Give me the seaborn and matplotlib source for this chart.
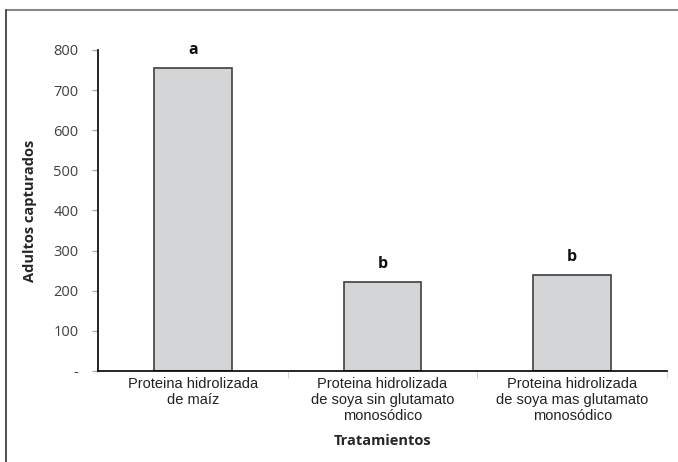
import pandas as pd
import matplotlib.pyplot as plt
import seaborn as sns
from matplotlib.lines import Line2D

# Data
tratamientos = ["Proteina hidrolizada\nde maíz",
                "Proteina hidrolizada\nde soya sin glutamato\nmonosódico",
                "Proteina hidrolizada\nde soya mas glutamato\nmonosódico"]
adultos = [755, 222, 240]
letras = ["a", "b", "b"]
yticks = [0, 100, 200, 300, 400, 500, 600, 700, 800]
ytick_labels = ["-", "100", "200", "300", "400", "500", "600", "700", "800"]

df = pd.DataFrame({"Tratamientos": tratamientos, "Adultos capturados": adultos})

sns.set_style("white")
plt.rcParams['font.family'] = ['Open Sans', 'DejaVu Sans']

fig = plt.figure(figsize=(6.78, 4.62), dpi=100)
ax = fig.add_axes([0.1445, 0.197, 0.8395, 0.695])

sns.barplot(data=df, x="Tratamientos", y="Adultos capturados", ax=ax,
            color="#d4d5d7", edgecolor="#404040", linewidth=1.2, width=0.41,
            saturation=1)

ax.set_ylim(0, 800)
ax.set_xlim(-0.5, 2.5)
ax.set_yticks(yticks)
ax.set_yticklabels(ytick_labels, color="#404040", fontsize=10.5)
ax.set_xticks(range(len(tratamientos)))
ax.set_xticklabels(tratamientos, fontsize=10.5, family="Liberation Sans",
                   color="#222222", linespacing=1.2)
ax.tick_params(axis="x", length=0, pad=4)
ax.tick_params(axis="y", length=4, color="#aaaaaa", width=1, pad=10, left=True)
ax.set_xticks([0.5, 1.5, 2.5], minor=True)
ax.tick_params(axis="x", which="minor", length=5, color="#cccccc", bottom=True)

for s in ["top", "right"]:
    ax.spines[s].set_visible(False)
ax.spines["left"].set_color("black")
ax.spines["bottom"].set_color("black")
ax.spines["left"].set_linewidth(1.2)
ax.spines["bottom"].set_linewidth(1.2)

for i, (v, l) in enumerate(zip(adultos, letras)):
    ax.annotate(l, (i, v), xytext=(0, 7), textcoords="offset points",
                ha="center", va="bottom", fontsize=11.5, fontweight="bold",
                color="#111111")

ax.set_ylabel("Adultos capturados", fontsize=10.5, fontweight="bold", labelpad=12)
ax.set_xlabel("Tratamientos", fontsize=10.5, fontweight="bold", labelpad=8)

# outer frame of the original figure
fig.add_artist(Line2D([6 / 678, 1], [1 - 10 / 462] * 2, color="#888888", lw=1.5,
                      transform=fig.transFigure))
fig.add_artist(Line2D([6 / 678] * 2, [0, 1 - 10 / 462], color="#333333", lw=1.2,
                      transform=fig.transFigure))

plt.savefig("out.png", dpi=100)
